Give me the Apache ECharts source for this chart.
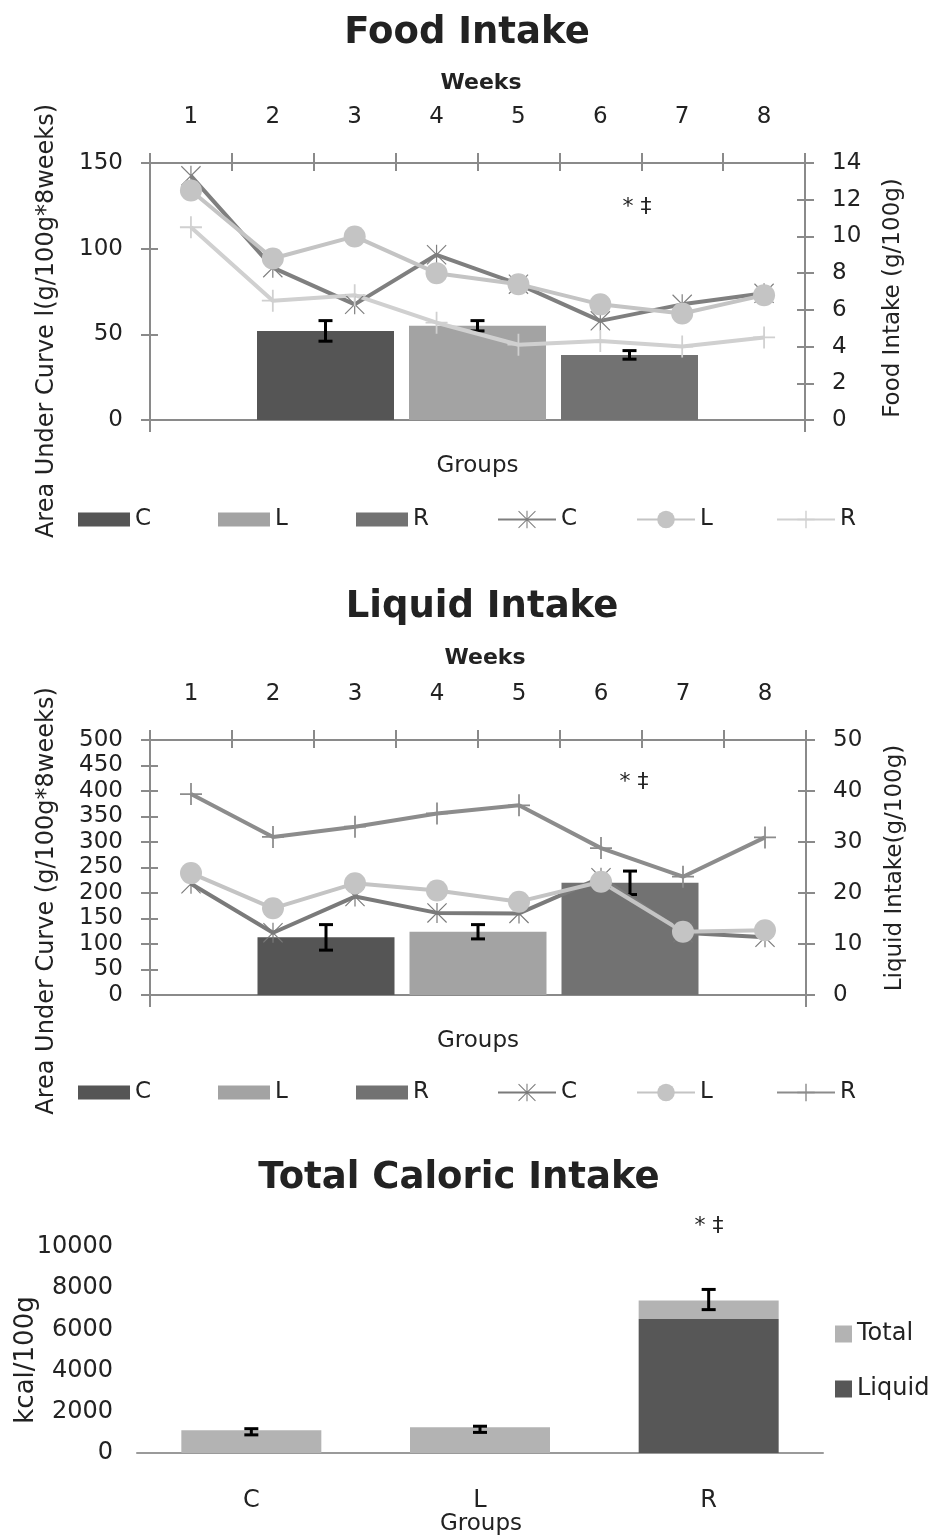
<!DOCTYPE html>
<html><head><meta charset="utf-8">
<script src="https://cdn.jsdelivr.net/npm/echarts@6/dist/echarts.min.js"></script>
<style>html,body{margin:0;padding:0;background:#fff}#c{width:942px;height:1537px}</style>
</head><body><div id="c"></div>
<script>
// ---------- DATA ----------
const weeks = ['1','2','3','4','5','6','7','8'];
const groupAxis = ['Groups'];
const groups = ['C','L','R'];
// Food intake
const foodAUC = [52, 55, 38];
const foodAUCErr = [6, 3, 2.5];
const foodC = [13.3, 8.3, 6.3, 9.0, 7.4, 5.4, 6.3, 6.9];
const foodL = [12.5, 8.8, 10.0, 8.0, 7.4, 6.3, 5.8, 6.8];
const foodR = [10.5, 6.5, 6.8, 5.3, 4.1, 4.3, 4.0, 4.5];
// Liquid intake
const liqAUC = [113, 124, 220];
const liqAUCErr = [25, 14, 23];
const liqC = [21.8, 12.2, 19.3, 16.1, 16.0, 23.0, 12.2, 11.3];
const liqL = [23.9, 17.0, 21.9, 20.5, 18.3, 22.2, 12.4, 12.7];
const liqR = [39.4, 31.0, 33.0, 35.6, 37.2, 28.8, 23.2, 30.9];
// Total caloric intake
const calTotal = [1100, 1250, 7400];
const calLiquid = [0, 0, 6500];
const calErrMid = [1030, 1150, 7450];
const calErrHalf = [150, 150, 490];

// ---------- STYLE ----------
const FONT = 'DejaVu Sans';
const AX = '#8a8a8a';
const TXT = '#222';
const BAR_W = 137, BAR_GAP = 15;
const colBar = {C:'#555555', L:'#a3a3a3', R:'#727272'};
const ASTER = 'path://M4 0 L100 96 L96 100 L0 4 Z M96 0 L100 4 L4 100 L0 96 Z M47 0 L53 0 L53 100 L47 100 Z';
const PLUS = 'path://M46 0 L54 0 L54 46 L100 46 L100 54 L54 54 L54 100 L46 100 L46 54 L0 54 L0 46 L46 46 Z';

const chart = echarts.init(document.getElementById('c'), null, {renderer:'canvas'});

const lblStyle = {fontFamily:FONT, fontSize:23, color:TXT};
function lineAx(){ return {show:true, onZero:false, lineStyle:{color:AX, width:2}}; }

const xAxes = [], yAxes = [];
function addGridAxes(g, yMinL, yMaxL, yIntL, yMinR, yMaxR, yIntR) {
  const base = xAxes.length;
  xAxes.push({gridIndex:g, type:'category', data:groupAxis, position:'bottom', axisLine:lineAx(),
    axisTick:{show:true, length:12, lineStyle:{color:AX, width:2}}, axisLabel:{...lblStyle, margin:35}});
  xAxes.push({gridIndex:g, type:'category', data:weeks, position:'top', axisLine:lineAx(),
    axisTick:{show:true, interval:0, length:10, lineStyle:{color:AX, width:2}}, axisLabel:{...lblStyle, margin:34}});
  xAxes.push({gridIndex:g, type:'category', data:weeks, position:'top', axisLine:{show:false, onZero:false},
    axisTick:{show:true, interval:0, inside:true, length:8, lineStyle:{color:AX, width:2}}, axisLabel:{show:false}});
  const yb = yAxes.length;
  yAxes.push({gridIndex:g, type:'value', position:'left', min:yMinL, max:yMaxL, interval:yIntL, splitLine:{show:false},
    axisLine:lineAx(), axisTick:{show:true, length:9, lineStyle:{color:AX, width:2}}, axisLabel:{...lblStyle, margin:27}});
  yAxes.push({gridIndex:g, type:'value', position:'right', min:yMinR, max:yMaxR, interval:yIntR, splitLine:{show:false},
    axisLine:lineAx(), axisTick:{show:true, length:9, lineStyle:{color:AX, width:2}}, axisLabel:{...lblStyle, margin:27}});
  yAxes.push({gridIndex:g, type:'value', position:'left', min:yMinL, max:yMaxL, interval:yIntL, splitLine:{show:false},
    axisLine:{show:false, onZero:false}, axisTick:{show:true, inside:true, length:8, lineStyle:{color:AX, width:2}}, axisLabel:{show:false}});
  yAxes.push({gridIndex:g, type:'value', position:'right', min:yMinR, max:yMaxR, interval:yIntR, splitLine:{show:false},
    axisLine:{show:false, onZero:false}, axisTick:{show:true, inside:true, length:8, lineStyle:{color:AX, width:2}}, axisLabel:{show:false}});
  return {xGroup:base, xWeek:base+1, yL:yb, yR:yb+1};
}
const a1 = addGridAxes(0, 0, 150, 50, 0, 14, 2);
const a2 = addGridAxes(1, 0, 500, 50, 0, 50, 10);
// grid 3
const x3 = xAxes.length;
xAxes.push({gridIndex:2, type:'category', data:groups, axisLine:{show:true, onZero:false, lineStyle:{color:'#9a9a9a', width:2}},
  axisTick:{show:false}, axisLabel:{...lblStyle, fontSize:24, margin:36}});
const y3 = yAxes.length;
yAxes.push({gridIndex:2, type:'value', min:0, max:10000, interval:2000, splitLine:{show:false},
  axisLine:{show:false}, axisTick:{show:false}, axisLabel:{...lblStyle, fontSize:24, margin:24, formatter:v=>String(v)}});

const series = [];
function groupedBars(ax, vals, errs, tag) {
  groups.forEach((g, i) => {
    series.push({name:g+'_b'+tag, type:'bar', xAxisIndex:ax.xGroup, yAxisIndex:ax.yL,
      data:[vals[i]], barWidth:BAR_W, barGap:(BAR_GAP/BAR_W*100)+'%', itemStyle:{color:colBar[g]}, z:2});
  });
  series.push({type:'custom', xAxisIndex:ax.xGroup, yAxisIndex:ax.yL, z:3, silent:true,
    data: vals.map((v,i)=>[0, v, errs[i], i]),
    renderItem:(p, api)=>{
      const v = api.value(1), e = api.value(2), i = api.value(3);
      const off = (i-1)*(BAR_W+BAR_GAP);
      const t = api.coord([0, v+e]), b = api.coord([0, v-e]);
      const x = t[0]+off, w = 7;
      const st = {stroke:'#000', lineWidth:3};
      return {type:'group', children:[
        {type:'line', shape:{x1:x, y1:t[1], x2:x, y2:b[1]}, style:st},
        {type:'line', shape:{x1:x-w, y1:t[1], x2:x+w, y2:t[1]}, style:st},
        {type:'line', shape:{x1:x-w, y1:b[1], x2:x+w, y2:b[1]}, style:st}
      ]};
    }});
}
function lines(ax, data, tag, cols) {
  const defs = [['C', data[0], ASTER, 20], ['L', data[1], 'circle', 22], ['R', data[2], PLUS, 22]];
  defs.forEach(([g, d, sym, sz], k) => {
    series.push({name:g+'_l'+tag, type:'line', xAxisIndex:ax.xWeek, yAxisIndex:ax.yR, data:d,
      symbol:sym, symbolSize:sz, symbolKeepAspect:true, showSymbol:true,
      lineStyle:{color:cols[k], width:4}, itemStyle:{color:cols[k], borderWidth:0}, z:4});
  });
}
groupedBars(a1, foodAUC, foodAUCErr, '1');
lines(a1, [foodC, foodL, foodR], '1', ['#7f7f7f', '#c4c4c4', '#d0d0d0']);
groupedBars(a2, liqAUC, liqAUCErr, '2');
lines(a2, [liqC, liqL, liqR], '2', ['#7a7a7a', '#c4c4c4', '#8c8c8c']);

// chart 3 stacked
series.push({name:'Liquid', type:'bar', stack:'cal', xAxisIndex:x3, yAxisIndex:y3, barWidth:140,
  data:calLiquid, itemStyle:{color:'#575757'}});
series.push({name:'Total', type:'bar', stack:'cal', xAxisIndex:x3, yAxisIndex:y3, barWidth:140,
  data:calTotal.map((t,i)=>t-calLiquid[i]), itemStyle:{color:'#b3b3b3'}});
series.push({type:'custom', xAxisIndex:x3, yAxisIndex:y3, z:3, silent:true,
  data: calErrMid.map((m,i)=>[i, m, calErrHalf[i]]),
  renderItem:(p, api)=>{
    const i = api.value(0), m = api.value(1), e = api.value(2);
    const t = api.coord([i, m+e]), b = api.coord([i, m-e]);
    const x = t[0], w = 7, st = {stroke:'#000', lineWidth:3};
    return {type:'group', children:[
      {type:'line', shape:{x1:x, y1:t[1], x2:x, y2:b[1]}, style:st},
      {type:'line', shape:{x1:x-w, y1:t[1], x2:x+w, y2:t[1]}, style:st},
      {type:'line', shape:{x1:x-w, y1:b[1], x2:x+w, y2:b[1]}, style:st}
    ]};
  }});

// one legend component per item, so the spacing matches the reference exactly
const legendLefts = {b:[78, 218, 356], l:[497, 636, 776]};
function legendItems(tag, top) {
  const out = [];
  groups.forEach((g, i) => {
    out.push({data:[{name:g+'_b'+tag, icon:'rect'}], left:legendLefts.b[i], top:top, padding:0,
      itemWidth:52, itemHeight:14, selectedMode:false, formatter:n=>n.split('_')[0],
      textStyle:{fontFamily:FONT, fontSize:23, color:TXT}});
    out.push({data:[{name:g+'_l'+tag}], left:legendLefts.l[i], top:top, padding:0,
      itemWidth:58, itemHeight:22, selectedMode:false, formatter:n=>n.split('_')[0],
      textStyle:{fontFamily:FONT, fontSize:23, color:TXT}});
  });
  return out;
}

function txt(text, x, y, size, opts={}) {
  return {type:'text', x:x, y:y, rotation:opts.rot||0, z:10,
    style:{text:text, fontFamily:FONT, fontSize:size, fontWeight:opts.bold?'bold':'normal', fill:opts.fill||TXT,
      align:'center', verticalAlign:'middle'}};
}
const R90 = Math.PI/2;
const graphics = [
  txt('Food Intake', 467, 33, 37, {bold:true}),
  txt('Weeks', 481, 83, 22, {bold:true}),
  txt('Area Under Curve l(g/100g*8weeks)', 47, 321, 24, {rot:R90}),
  txt('Food Intake (g/100g)', 893, 298, 23, {rot:R90}),
  txt('* ‡', 637, 207, 22),
  txt('Liquid Intake', 482, 607, 37, {bold:true}),
  txt('Weeks', 485, 658, 22, {bold:true}),
  txt('Area Under Curve (g/100g*8weeks)', 47, 901, 24, {rot:R90}),
  txt('Liquid Intake(g/100g)', 895, 868, 23, {rot:R90}),
  txt('* ‡', 634, 782, 22),
  txt('Total Caloric Intake', 459, 1178, 37, {bold:true}),
  txt('kcal/100g', 26, 1360, 26, {rot:R90}),
  txt('Groups', 481, 1524, 23),
  txt('* ‡', 709, 1226, 22)
];

chart.setOption({
  animation:false,
  textStyle:{fontFamily:FONT},
  grid:[
    {left:150, top:163, width:655, height:257},
    {left:150, top:740, width:656, height:255},
    {left:137, top:1247, width:686, height:206}
  ],
  xAxis:xAxes, yAxis:yAxes,
  series:series,
  legend:[
    ...legendItems('1', 508),
    ...legendItems('2', 1081),
    {data:[{name:'Total', icon:'rect'}, {name:'Liquid', icon:'rect'}], orient:'vertical', left:835, top:1322,
      padding:0, itemWidth:17, itemHeight:17, itemGap:31, selectedMode:false,
      textStyle:{fontFamily:FONT, fontSize:24, color:TXT}}
  ],
  graphic:graphics
});
</script></body></html>
